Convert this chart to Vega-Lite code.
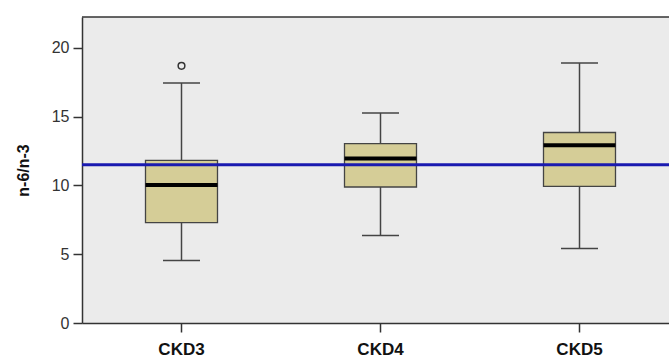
{
  "$schema": "https://vega.github.io/schema/vega-lite/v6.json",
  "autosize": "none",
  "padding": {"left": 82, "top": 17, "right": 0, "bottom": 40},
  "width": 587,
  "height": 306,
  "background": "white",
  "config": {
    "view": {"stroke": null, "fill": "#ebebeb"},
    "font": "Liberation Sans"
  },
  "datasets": {
    "boxes": [
      {"group": "CKD3", "lower": 4.54, "q1": 7.3, "median": 10.04, "q3": 11.83, "upper": 17.45},
      {"group": "CKD4", "lower": 6.36, "q1": 9.89, "median": 11.96, "q3": 13.05, "upper": 15.27},
      {"group": "CKD5", "lower": 5.41, "q1": 9.94, "median": 12.92, "q3": 13.85, "upper": 18.9}
    ],
    "outliers": [
      {"group": "CKD3", "value": 18.7}
    ],
    "lines": [
      {"kind": "reference", "value": 11.5}
    ]
  },
  "layer": [
    {
      "data": {"name": "boxes"},
      "mark": {"type": "rule", "color": "#444444", "strokeWidth": 1.5},
      "encoding": {
        "x": {
          "field": "group", "type": "nominal",
          "scale": {"domain": ["CKD3", "CKD4", "CKD5"], "range": [0, 597], "paddingInner": 0, "paddingOuter": 0},
          "axis": {
            "title": null, "labelAngle": 0, "labelFont": "Liberation Sans", "labelFontSize": 17, "labelFontWeight": "bold",
            "labelColor": "#111111", "tickSize": 9, "tickColor": "#333333", "tickWidth": 1.5, "labelPadding": 9,
            "domainColor": "#333333", "domainWidth": 1.5, "grid": false
          }
        },
        "y": {
          "field": "lower", "type": "quantitative",
          "scale": {"domain": [0, 22.25], "nice": false, "zero": true},
          "axis": {
            "title": "n-6/n-3", "titleFont": "Liberation Sans", "titleFontSize": 16, "titleFontWeight": "bold", "titleColor": "#111111",
            "titlePadding": 20, "values": [0, 5, 10, 15, 20], "labelFontSize": 16, "labelColor": "#333333",
            "labelPadding": 4, "tickSize": 9, "tickColor": "#333333", "tickWidth": 1.5,
            "domainColor": "#333333", "domainWidth": 1.5, "grid": false
          }
        },
        "y2": {"field": "upper"}
      }
    },
    {
      "data": {"name": "lines"},
      "mark": {"type": "rule", "color": "#333333", "strokeWidth": 1.5},
      "encoding": {"y": {"datum": 22.25, "type": "quantitative"}}
    },
    {
      "data": {"name": "boxes"},
      "mark": {"type": "bar", "size": 72, "fill": "#d5cd97", "stroke": "#444444", "strokeWidth": 1.3},
      "encoding": {
        "x": {"field": "group", "type": "nominal"},
        "y": {"field": "q1", "type": "quantitative"},
        "y2": {"field": "q3"}
      }
    },
    {
      "data": {"name": "boxes"},
      "mark": {"type": "tick", "size": 72, "thickness": 4, "color": "#000000", "opacity": 1},
      "encoding": {
        "x": {"field": "group", "type": "nominal"},
        "y": {"field": "median", "type": "quantitative"}
      }
    },
    {
      "data": {"name": "boxes"},
      "mark": {"type": "tick", "size": 37, "thickness": 1.5, "color": "#444444", "opacity": 1},
      "encoding": {
        "x": {"field": "group", "type": "nominal"},
        "y": {"field": "lower", "type": "quantitative"}
      }
    },
    {
      "data": {"name": "boxes"},
      "mark": {"type": "tick", "size": 37, "thickness": 1.5, "color": "#444444", "opacity": 1},
      "encoding": {
        "x": {"field": "group", "type": "nominal"},
        "y": {"field": "upper", "type": "quantitative"}
      }
    },
    {
      "data": {"name": "outliers"},
      "mark": {"type": "point", "shape": "circle", "filled": false, "size": 45, "stroke": "#333333", "strokeWidth": 1.5, "opacity": 1},
      "encoding": {
        "x": {"field": "group", "type": "nominal"},
        "y": {"field": "value", "type": "quantitative"}
      }
    },
    {
      "data": {"name": "lines"},
      "mark": {"type": "rule", "color": "#1a1ab0", "strokeWidth": 3},
      "encoding": {"y": {"field": "value", "type": "quantitative"}}
    }
  ]
}
